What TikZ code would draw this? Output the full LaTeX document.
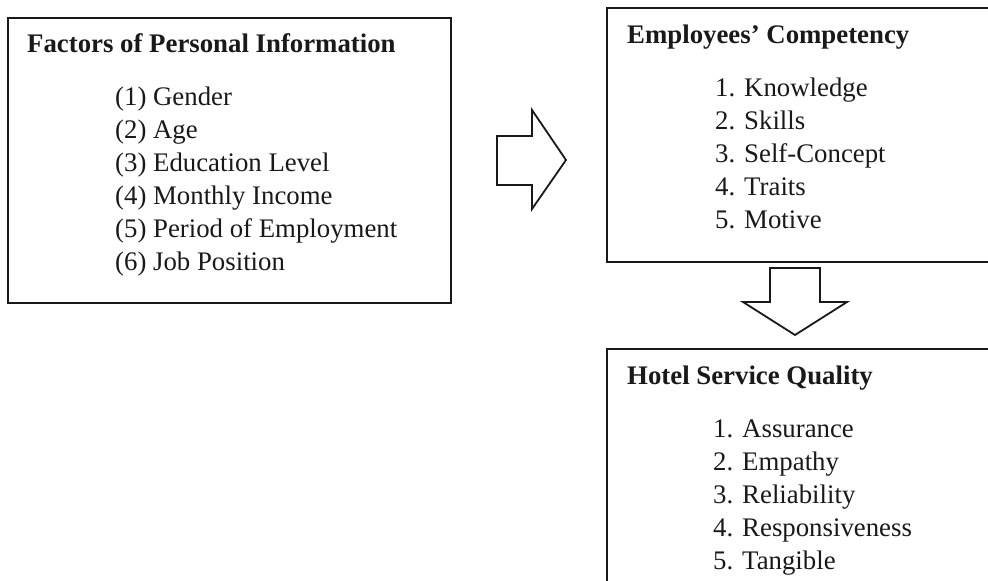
\documentclass[tikz,border=0pt]{standalone}
\usepackage{fontspec}
\setmainfont{Liberation Serif}
\tikzset{
  box/.style={draw=black!90, line width=1.8pt},
  blockarrow/.style={draw=black!90, line width=1.8pt, line join=miter},
  headtext/.style={anchor=base west, inner sep=0pt, text=black!90,
    font=\bfseries\fontsize{26.8}{33}\selectfont},
  itemtext/.style={anchor=base west, inner sep=0pt, text=black!90,
    font=\fontsize{26.8}{33}\selectfont},
}
\begin{document}
\begin{tikzpicture}[x=1pt,y=-1pt]
    \clip (0,0) rectangle (988,581);

    % personal information
    \draw[box] (8,18) rectangle (451,303);
    \node[headtext] (pinfo) at (27,52) {Factors of Personal Information};
    \node[itemtext] (gender) at (115,105) {(1) Gender};
    \node[itemtext] (age) at (115,138) {(2) Age};
    \node[itemtext] (edu) at (115,171) {(3) Education Level};
    \node[itemtext] (income) at (115,204) {(4) Monthly Income};
    \node[itemtext] (period) at (115,237) {(5) Period of Employment};
    \node[itemtext] (job) at (115,270) {(6) Job Position};

    % competency
    \draw[box] (607,8) rectangle (996,262);
    \node[headtext] (comp) at (627,43) {Employees’ Competency};
    \node[itemtext] (know) at (715,96) {1. Knowledge};
    \node[itemtext] (skill) at (715,129) {2. Skills};
    \node[itemtext] (self) at (715,162) {3. Self-Concept};
    \node[itemtext] (trait) at (715,195) {4. Traits};
    \node[itemtext] (motive) at (715,228) {5. Motive};

    % service quality
    \draw[box] (607,349) rectangle (996,600);
    \node[headtext] (hsq) at (627,384) {Hotel Service Quality};
    \node[itemtext] (assur) at (713,437) {1. Assurance};
    \node[itemtext] (empat) at (713,470) {2. Empathy};
    \node[itemtext] (relia) at (713,503) {3. Reliability};
    \node[itemtext] (respo) at (713,536) {4. Responsiveness};
    \node[itemtext] (tang) at (713,569) {5. Tangible};

    % block arrows
    \draw[blockarrow] (497,136) -- (532,136) -- (532,110) -- (566,160)
      -- (532,209) -- (532,185) -- (497,185) -- cycle;
    \draw[blockarrow] (770,268) -- (820,268) -- (820,302) -- (847,302)
      -- (795,335) -- (743,302) -- (770,302) -- cycle;
  \end{tikzpicture}
\end{document}
